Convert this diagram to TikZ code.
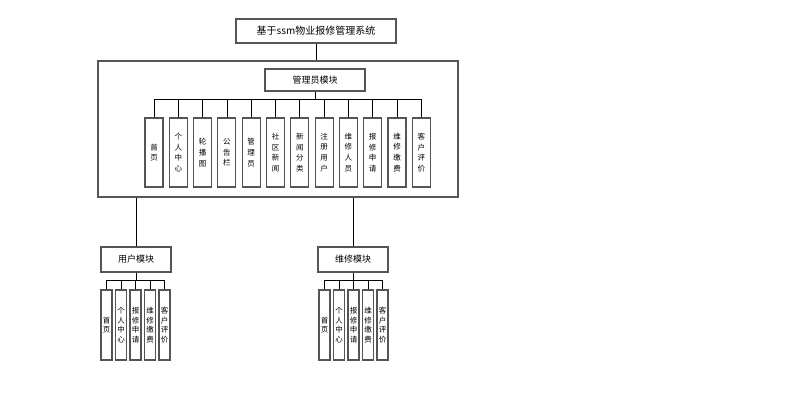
\documentclass[tikz,border=0pt]{standalone}
\usepackage{fontspec}
\newfontfamily\cjk{Noto Sans CJK SC}
\usepackage{tikz}
\usetikzlibrary{positioning}
\definecolor{EdgeGray}{HTML}{555555}

\begin{document}
\begin{tikzpicture}[
  x=1pt, y=-1pt,
  box/.style={draw=EdgeGray, line width=1.1pt, fill=white, inner sep=0pt,
              align=center, font=\cjk\fontsize{9}{11}\selectfont},
  leaf/.style={box, minimum width=18pt, minimum height=69pt,
               font=\cjk\fontsize{7.5}{10.7}\selectfont},
  sleaf/.style={box, minimum width=11pt, minimum height=70pt,
                font=\cjk\fontsize{7.5}{9.5}\selectfont},
  link/.style={black, line width=0.8pt}
]
\useasboundingbox (0,0) rectangle (806,408);

% ── TOP ───────────────────────────────────────────────────────────────────────
\node[box, minimum width=160pt, minimum height=24pt,
      font=\cjk\fontsize{10}{12}\selectfont] (sys) at (316, 31) {基于ssm物业报修管理系统};
\node[draw=EdgeGray, line width=1.1pt, minimum width=360pt, minimum height=136pt] (frame) at (278, 129) {};
\node[box, minimum width=100pt, minimum height=22pt] (adm) at (315, 80) {管理员模块};

\draw[link] (sys.south) -- (sys.south |- frame.north);

% admin leaves
\node[leaf] (a1)  at (154.0, 152.5) {首\\页};
\node[leaf] (a2)  at (178.3, 152.5) {个\\人\\中\\心};
\node[leaf] (a3)  at (202.6, 152.5) {轮\\播\\图};
\node[leaf] (a4)  at (226.9, 152.5) {公\\告\\栏};
\node[leaf] (a5)  at (251.2, 152.5) {管\\理\\员};
\node[leaf] (a6)  at (275.5, 152.5) {社\\区\\新\\闻};
\node[leaf] (a7)  at (299.8, 152.5) {新\\闻\\分\\类};
\node[leaf] (a8)  at (324.1, 152.5) {注\\册\\用\\户};
\node[leaf] (a9)  at (348.4, 152.5) {维\\修\\人\\员};
\node[leaf] (a10) at (372.7, 152.5) {报\\修\\申\\请};
\node[leaf] (a11) at (397.0, 152.5) {维\\修\\缴\\费};
\node[leaf] (a12) at (421.3, 152.5) {客\\户\\评\\价};

\coordinate (abus) at (0, 99);
\draw[link] (adm.south) -- (adm.south |- abus);
\draw[link] (a1.north |- abus) -- (a12.north |- abus);
\draw[link] (a1.north) -- (a1.north |- abus);
\draw[link] (a2.north) -- (a2.north |- abus);
\draw[link] (a3.north) -- (a3.north |- abus);
\draw[link] (a4.north) -- (a4.north |- abus);
\draw[link] (a5.north) -- (a5.north |- abus);
\draw[link] (a6.north) -- (a6.north |- abus);
\draw[link] (a7.north) -- (a7.north |- abus);
\draw[link] (a8.north) -- (a8.north |- abus);
\draw[link] (a9.north) -- (a9.north |- abus);
\draw[link] (a10.north) -- (a10.north |- abus);
\draw[link] (a11.north) -- (a11.north |- abus);
\draw[link] (a12.north) -- (a12.north |- abus);

% ── USER MODULE ───────────────────────────────────────────────────────────────
\node[box, minimum width=70pt, minimum height=25pt] (usr) at (136, 259.5) {用户模块};
\draw[link] (usr.north) -- (usr.north |- frame.south);

\node[sleaf] (u1) at (106.5, 325) {首\\页};
\node[sleaf] (u2) at (121.0, 325) {个\\人\\中\\心};
\node[sleaf] (u3) at (135.5, 325) {报\\修\\申\\请};
\node[sleaf] (u4) at (150.0, 325) {维\\修\\缴\\费};
\node[sleaf] (u5) at (164.5, 325) {客\\户\\评\\价};

\coordinate (ubus) at (0, 280);
\draw[link] (usr.south) -- (usr.south |- ubus);
\draw[link] (u1.north |- ubus) -- (u5.north |- ubus);
\draw[link] (u1.north) -- (u1.north |- ubus);
\draw[link] (u2.north) -- (u2.north |- ubus);
\draw[link] (u3.north) -- (u3.north |- ubus);
\draw[link] (u4.north) -- (u4.north |- ubus);
\draw[link] (u5.north) -- (u5.north |- ubus);

% ── REPAIR MODULE ─────────────────────────────────────────────────────────────
\node[box, minimum width=70pt, minimum height=25pt] (rep) at (353, 259.5) {维修模块};
\draw[link] (rep.north) -- (rep.north |- frame.south);

\node[sleaf] (r1) at (324.5, 325) {首\\页};
\node[sleaf] (r2) at (339.0, 325) {个\\人\\中\\心};
\node[sleaf] (r3) at (353.5, 325) {报\\修\\申\\请};
\node[sleaf] (r4) at (368.0, 325) {维\\修\\缴\\费};
\node[sleaf] (r5) at (382.5, 325) {客\\户\\评\\价};

\coordinate (rbus) at (0, 280);
\draw[link] (rep.south) -- (rep.south |- rbus);
\draw[link] (r1.north |- rbus) -- (r5.north |- rbus);
\draw[link] (r1.north) -- (r1.north |- rbus);
\draw[link] (r2.north) -- (r2.north |- rbus);
\draw[link] (r3.north) -- (r3.north |- rbus);
\draw[link] (r4.north) -- (r4.north |- rbus);
\draw[link] (r5.north) -- (r5.north |- rbus);

\end{tikzpicture}
\end{document}
